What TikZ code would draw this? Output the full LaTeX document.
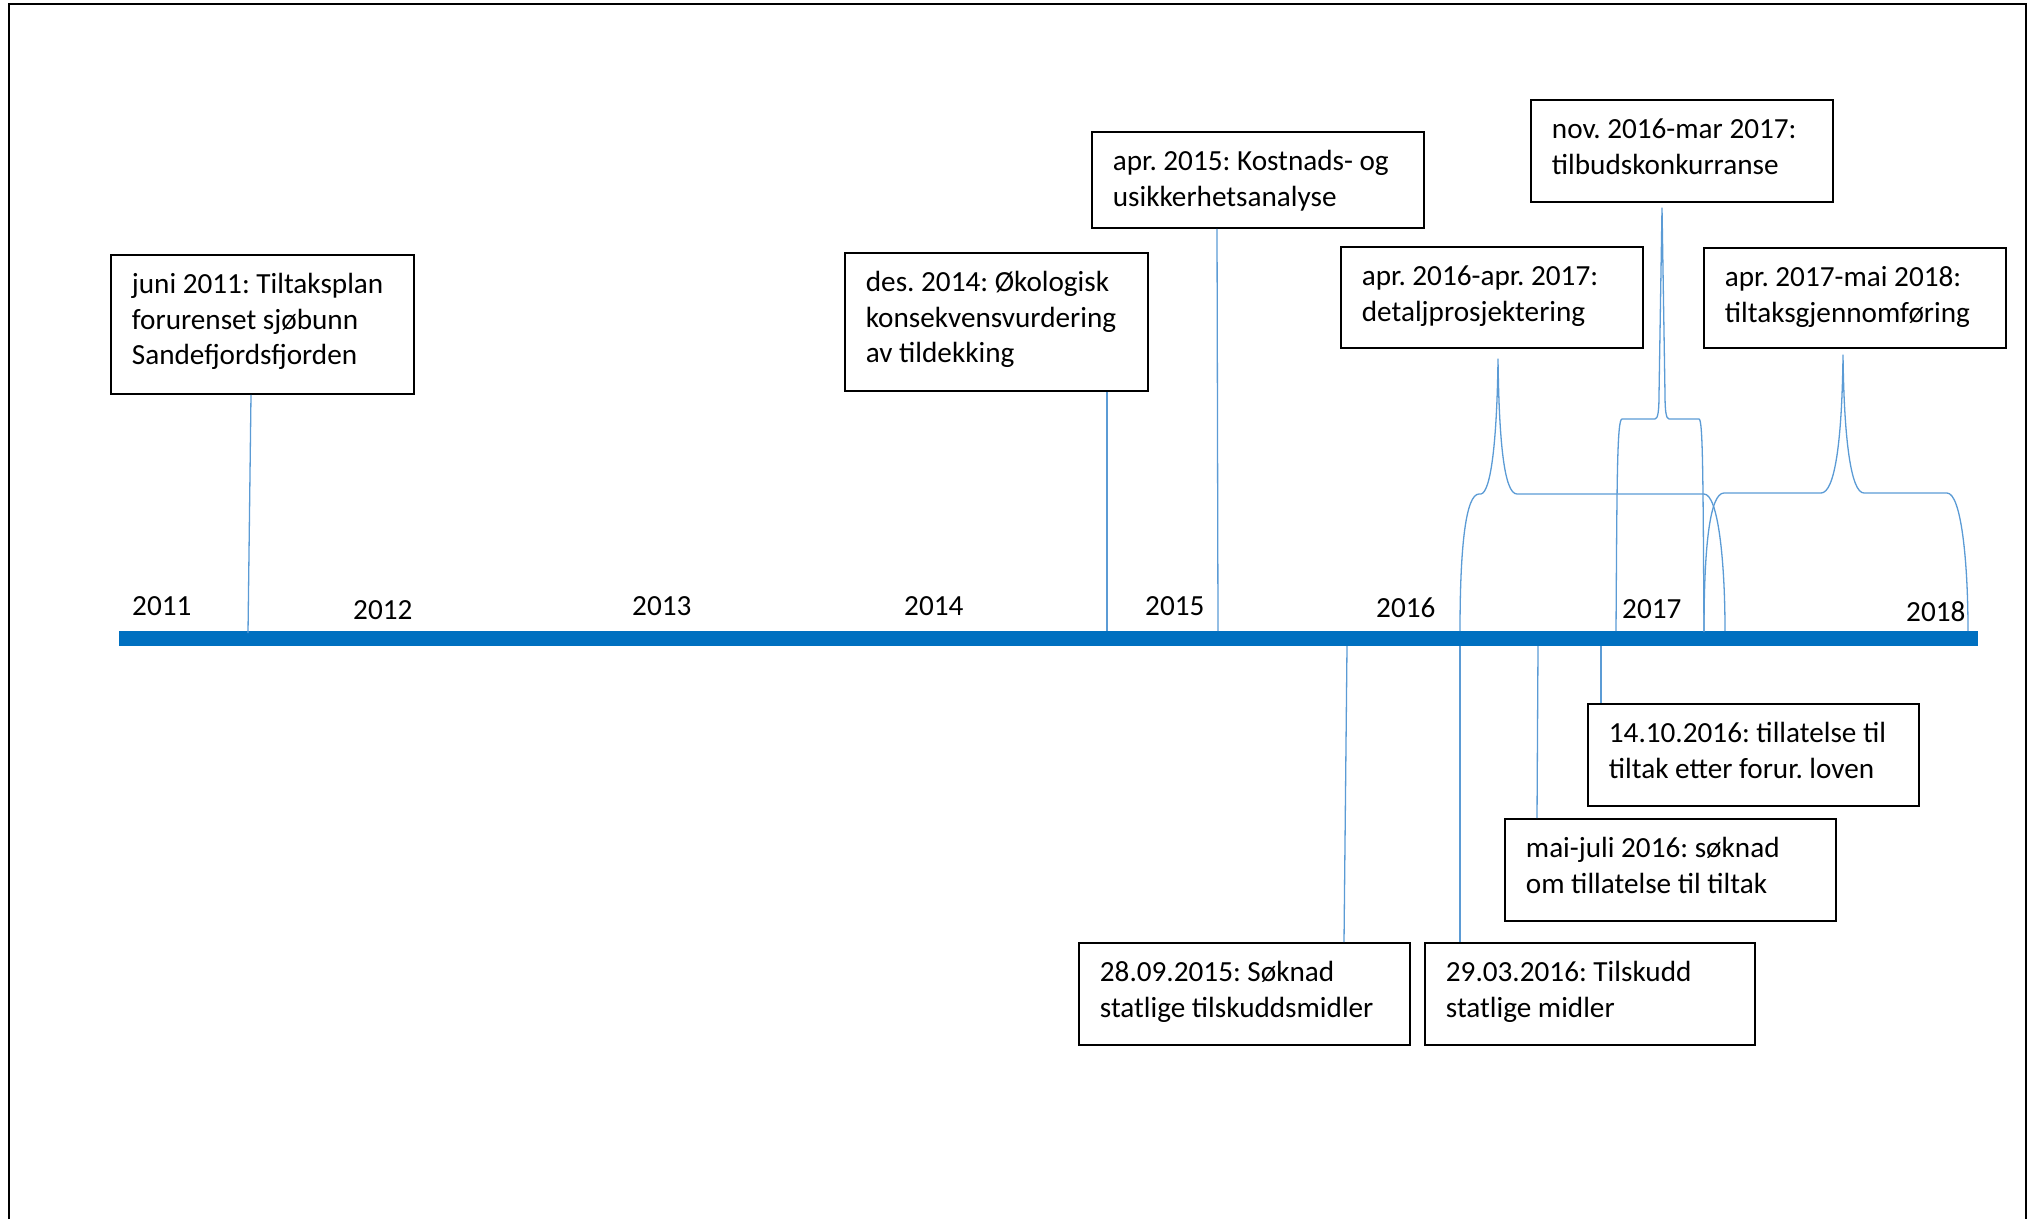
\documentclass[tikz,border=0pt]{standalone}
\usepackage{fontspec}
\setmainfont{Carlito}
\frenchspacing
\definecolor{barblue}{HTML}{0070C0}
\definecolor{connblue}{HTML}{5B9BD5}
\tikzset{
  txtfont/.style={font=\fontsize{29.2}{35.5}\selectfont\frenchspacing},
  tbox/.style={draw=black, line width=1.8pt, anchor=north west, inner xsep=21pt, inner ysep=14.15pt, txtfont},
  yearlbl/.style={anchor=base west, inner sep=0pt, txtfont},
  conn/.style={draw=connblue, line width=1.3pt},
  brace/.style={draw=connblue, line width=1.3pt, line join=round},
}
\newcommand\tlbox[6]{\node[tbox, minimum width=#4pt, minimum height=#5pt] (#1) at (#2,#3)
  {\parbox[t][\dimexpr#5pt-28.3pt\relax][t]{\dimexpr#4pt-42pt\relax}{\strut#6}};}
\begin{document}
\begin{tikzpicture}[x=1pt,y=-1pt]
\useasboundingbox (0,0) rectangle (2031,1219);
% frame
\draw[line width=2.5pt] (9,1219) -- (9,4) -- (2026,4) -- (2026,1219);
% timeline bar
\node[fill=barblue, minimum width=1859pt, minimum height=15pt, inner sep=0pt, anchor=north west] (bar) at (119,631) {};
% year labels
\node[yearlbl] (y2011) at (132,615) {2011};
\node[yearlbl] (y2012) at (353,619) {2012};
\node[yearlbl] (y2013) at (632,615) {2013};
\node[yearlbl] (y2014) at (904,615) {2014};
\node[yearlbl] (y2015) at (1145,615) {2015};
\node[yearlbl] (y2016) at (1376,617) {2016};
\node[yearlbl] (y2017) at (1622,618) {2017};
\node[yearlbl] (y2018) at (1906,621) {2018};
% boxes
\tlbox{b1}{110}{254}{303}{139}{\mbox{juni 2011: Tiltaksplan}\\\mbox{forurenset sjøbunn}\\\mbox{Sandefjordsfjorden}}
\tlbox{b2}{844}{252}{303}{138}{\mbox{des. 2014: Økologisk}\\\mbox{konsekvensvurdering}\\\mbox{av tildekking}}
\tlbox{b3}{1091}{131}{332}{96}{\mbox{apr. 2015: Kostnads- og}\\\mbox{usikkerhetsanalyse}}
\tlbox{b4}{1340}{246}{302}{101}{\mbox{apr. 2016-apr. 2017:}\\\mbox{detaljprosjektering}}
\tlbox{b5}{1530}{99}{302}{102}{\mbox{nov. 2016-mar 2017:}\\\mbox{tilbudskonkurranse}}
\tlbox{b6}{1703}{247}{302}{100}{\mbox{apr. 2017-mai 2018:}\\\mbox{tiltaksgjennomføring}}
\tlbox{b7}{1587}{703}{331}{102}{\mbox{14.10.2016: tillatelse til}\\\mbox{tiltak etter forur. loven}}
\tlbox{b8}{1504}{818}{331}{102}{\mbox{mai-juli 2016: søknad}\\\mbox{om tillatelse til tiltak}}
\tlbox{b9}{1078}{942}{331}{102}{\mbox{28.09.2015: Søknad}\\\mbox{statlige tilskuddsmidler}}
\tlbox{b10}{1424}{942}{330}{102}{\mbox{29.03.2016: Tilskudd}\\\mbox{statlige midler}}
% points on the bar
\coordinate (p1) at (248,633);
\coordinate (p2) at (1107,631);
\coordinate (p3) at (1218,631);
\coordinate (q8) at (1538,646);
\coordinate (q7) at (1601,646);
\coordinate (q9) at (1347,646);
\coordinate (q10) at (1460,646);
% brace tips and ends
\coordinate (tA) at (1498,359);
\coordinate (tB) at (1662,208);
\coordinate (tC) at (1843,355);
\coordinate (aL) at (1460,631);
\coordinate (aR) at (1725,631);
\coordinate (bL) at (1616,631);
\coordinate (bR) at (1704,632);
\coordinate (cL) at (1704,631);
\coordinate (cR) at (1968,631);
% straight connectors
\draw[conn] ([xshift=141pt]b1.south west) -- (p1);
\draw[conn] ([xshift=263pt]b2.south west) -- (p2);
\draw[conn] ([xshift=126pt]b3.south west) -- (p3);
\draw[conn] (q8) -- ([xshift=33pt]b8.north west);
\draw[conn] (q7) -- ([xshift=14pt]b7.north west);
\draw[conn] (q9) -- ([xshift=266pt]b9.north west);
\draw[conn] (q10) -- ([xshift=36pt]b10.north west);
% braces
\draw[brace] (aL) .. controls (1460,545) and (1466,494) .. (1479,494) -- (1481,494)
  .. controls (1491,492) and (1497,440) .. (tA)
  .. controls (1499,440) and (1504,494) .. (1517,494) -- (1704,494)
  .. controls (1718,494) and (1725,560) .. (aR);
\draw[brace] (bL) .. controls (1617,480) and (1617,419) .. (1622,419) -- (1655,419)
  .. controls (1658,419) and (1659,410) .. (1659,395) -- (tB)
  -- (1665,395) .. controls (1665,410) and (1666,419) .. (1669,419) -- (1699,419)
  .. controls (1703,419) and (1703,480) .. (bR);
\draw[brace] (cL) .. controls (1704,545) and (1710,493) .. (1724,493) -- (1821,493)
  .. controls (1835,493) and (1842,440) .. (tC)
  .. controls (1844,440) and (1851,493) .. (1864,493) -- (1947,493)
  .. controls (1961,493) and (1968,560) .. (cR);
\end{tikzpicture}
\end{document}
